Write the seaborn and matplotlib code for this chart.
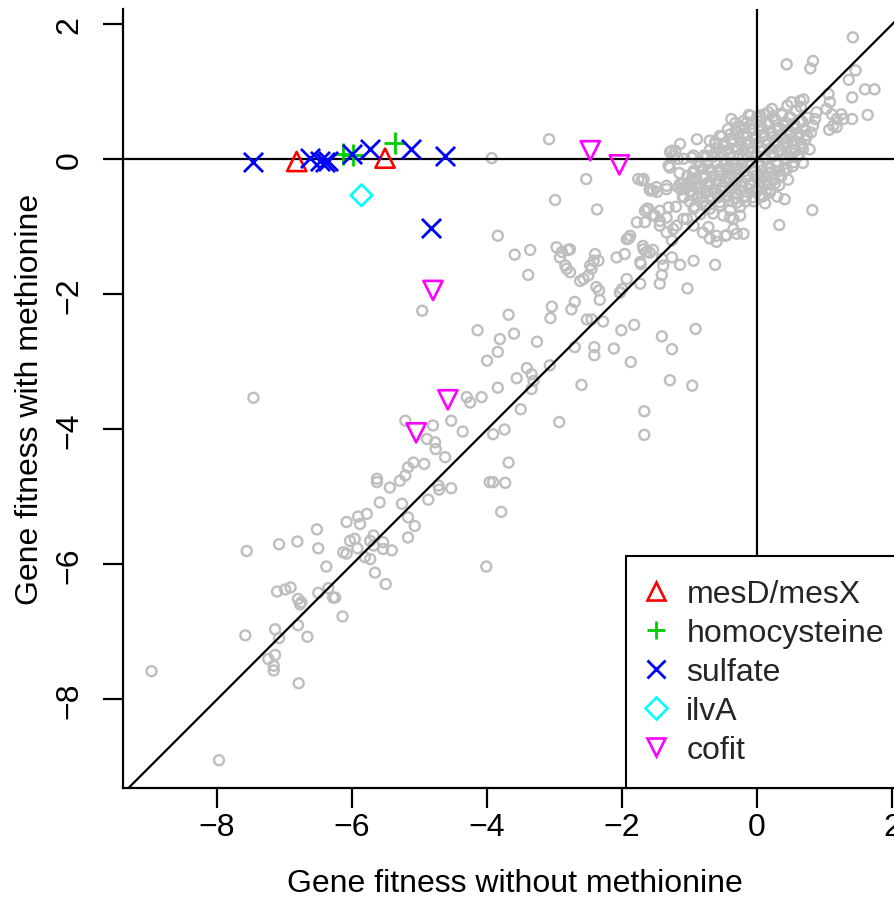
import matplotlib
matplotlib.use("Agg")
import matplotlib.pyplot as plt
from matplotlib.lines import Line2D
import seaborn as sns
import pandas as pd

# ---------------- data ----------------
bg_x = [
    -3.93, -3.84, -3.59,
    1.42, 0.44, 0.83, 0.79, 1.46, 1.36, 1.60, 1.74, 1.41, 1.06, 1.08, 1.64, 1.11, 1.25, 1.41, 1.13, 1.07,
    -3.08, -2.53, -2.99, -2.37, -3.36, -3.39,
    -2.97, -2.89, -2.80, -2.92, -2.84, -2.77, -2.62, -2.50, -2.40, -2.35, -2.47,
    -2.08, -1.96, -1.90, -1.69, -1.64, -1.54, -1.72, -1.39, -1.41, -1.14, -0.94, -0.62, -1.03, -1.44, -1.73, -1.93,
    1.03, 1.18, 1.28, 1.18, 0.83, 0.86, 0.88,
    0.51, 0.64, 0.69, 0.17, -0.10, -0.38, -0.25,
    -0.89, -1.14, -1.26, -1.24, -1.17, -0.97, -1.31, -1.68, -1.58, -1.48, -1.34, -1.14, -0.97,
    0.41, 0.82, 0.33, 0.19, 0.09,
    -1.63, -1.54, -1.44, -1.34, -1.24, -1.09, -0.94, -0.80, -0.70, -0.60, -0.45, -0.30, -0.20, -0.35, -0.25,
    -0.50, -0.75, -0.62, -1.66, -1.44,
    -1.76, -1.71, -1.59, -1.54, -1.49, -1.34, -1.17, -1.09, -1.02,
    -1.29, -1.21, -1.09, -0.94, -0.62, -1.29,
    -1.78, -1.66, -1.61, -1.51, -1.44, -1.31, -1.34, -1.19, -1.04, -0.94, -0.84, -0.72, -0.60, -0.47, -0.35,
    -0.40, -0.70, -1.93, -1.88, -1.68, -1.59, -1.41, -1.26, -1.26, -1.73,
    -2.42, -2.45, -2.57, -2.38, -2.77, -2.82, -2.03,
    -4.96, -7.46,
    -4.14, -3.68, -3.60, -3.81, -3.84, -4.00, -3.56, -3.84, -4.08, -4.30, -4.25, -4.53, -4.36, -4.80, -5.21,
    -4.89, -4.77, -4.76, -4.62, -4.93, -5.09, -5.17, -5.21, -5.29, -5.63, -5.63, -5.44, -5.59, -5.26, -5.17,
    -5.07, -5.17, -4.87, -4.72, -4.71, -4.53, -3.91, -3.74, -3.68, -3.96, -3.91, -3.73, -3.79, -4.01,
    -5.78, -5.91, -6.08, -5.88, -5.68, -5.96, -5.73, -5.54, -5.54, -5.41, -5.68, -5.73, -5.81, -6.13, -6.08,
    -6.52, -6.50, -6.81, -7.08, -7.56, -6.38, -5.66, -5.92, -6.03,
    -2.34, -2.33, -2.00, -2.03,
    -3.04, -3.06, -2.75, -2.70, -3.26, -3.41, -3.34, -3.31, -3.34, -3.50, -3.07, -2.70, -2.60, -2.93,
    -2.52, -2.45, -2.28, -2.41, -2.41, -2.12, -2.01, -1.82, -1.87, -1.41, -1.26, -1.29, -0.96, -0.91, -1.67, -1.67,
    -5.50, -7.11, -6.99, -6.91, -6.80, -6.75, -6.77, -6.50, -6.35, -6.28, -6.25, -6.14, -7.14, -7.08, -6.80,
    -6.66, -7.58, -7.14, -7.24, -7.16, -7.16, -6.79, -8.97, -7.97,
    -1.10, -1.05, -1.00, -0.98, -0.95, -0.92, -0.90, -0.88, -0.85, -0.83, -0.80, -0.78, -0.76, -0.74, -0.72,
    -0.70, -0.68, -0.66, -0.64, -0.62, -0.60, -0.58, -0.56, -0.55, -0.53, -0.51, -0.50, -0.48, -0.46, -0.45,
    -0.43, -0.41, -0.40, -0.38, -0.36, -0.35, -0.33, -0.31, -0.30, -0.28, -0.26, -0.25, -0.23, -0.21, -0.20,
    -0.18, -0.16, -0.15, -0.13, -0.11, -0.10, -0.08, -0.06, -0.05, -0.03, -0.02, 0.00, 0.02, 0.03, 0.05,
    0.06, 0.08, 0.10, 0.11, 0.13, 0.15, 0.16, 0.18, 0.20, 0.21, 0.23, 0.25, 0.26, 0.28, 0.30,
    0.31, 0.33, 0.35, 0.36, 0.38, 0.40, 0.41, 0.43, 0.45, 0.46, 0.48, 0.50, 0.51, 0.53, 0.55,
    0.56, 0.58, 0.60, 0.62, 0.64, 0.66, 0.68, 0.70, 0.72, 0.75, 0.78, 0.80, 0.22, 0.05, -0.15,
    -0.55, -0.70, -1.20, -1.15, 0.12, 0.30, -0.40, -0.65, 0.45, 0.65,
    # dense core
    -0.12, 0.00, 0.12, 0.24, 0.37, 0.50,
    -0.32, -0.20, -0.08, 0.05, 0.17, 0.29, 0.42, 0.55, 0.67,
    -0.43, -0.31, -0.19, -0.06, 0.08, 0.20, 0.33, 0.46, 0.58, 0.71,
    -0.52, -0.40, -0.27, -0.15, -0.02, 0.11, 0.23, 0.35, 0.48, 0.61, 0.74,
    -0.62, -0.49, -0.37, -0.24, -0.12, 0.01, 0.14, 0.27, 0.39, 0.52, 0.65,
    -0.70, -0.57, -0.45, -0.32, -0.20, -0.07, 0.06, 0.19, 0.31, 0.44, 0.57, 0.68,
    -0.78, -0.65, -0.53, -0.40, -0.27, -0.15, -0.02, 0.11, 0.24, 0.37, 0.50, 0.62,
    -0.86, -0.73, -0.61, -0.48, -0.35, -0.23, -0.10, 0.03, 0.16, 0.29, 0.42, 0.55,
    -0.93, -0.80, -0.68, -0.55, -0.43, -0.30, -0.18, -0.05, 0.08, 0.20, 0.33, 0.44,
    -1.03, -0.90, -0.78, -0.65, -0.53, -0.40, -0.28, -0.15, -0.02, 0.11, 0.24, 0.36,
    -1.10, -0.97, -0.85, -0.72, -0.60, -0.47, -0.35, -0.22, -0.09, 0.04, 0.16, 0.27,
    -1.13, -1.00, -0.88, -0.75, -0.63, -0.50, -0.37, -0.25, -0.12, 0.01, 0.14,
    -1.08, -0.95, -0.82, -0.70, -0.57, -0.44, -0.32, -0.19, -0.06, 0.04,
    -0.55, -0.42, -0.30, -0.17,
]
bg_y = [
    0.02, -1.13, -1.41,
    1.81, 1.41, 1.46, 1.35, 1.32, 1.18, 1.04, 1.04, 0.92, 0.97, 0.85, 0.66, 0.67, 0.67, 0.60, 0.50, 0.44,
    0.30, -0.29, -0.60, -0.74, -1.34, -1.71,
    -1.30, -1.37, -1.34, -1.45, -1.57, -1.67, -1.80, -1.72, -1.40, -1.50, -1.57,
    -1.45, -1.40, -1.17, -1.28, -1.37, -1.34, -1.55, -1.57, -1.71, -1.56, -1.50, -1.56, -1.91, -1.84, -1.84, -1.77,
    0.75, 0.60, 0.60, 0.48, 0.50, 0.60, 0.70,
    0.85, 0.87, 0.89, 0.70, 0.65, 0.60, 0.48,
    0.30, 0.23, 0.13, 0.05, 0.01, 0.03, -0.09, -0.29, -0.46, -0.48, -0.39, -0.36, -0.29,
    -0.59, -0.75, -0.97, -0.49, -0.54,
    -0.73, -0.83, -0.98, -1.08, -1.03, -0.88, -0.98, -1.08, -1.17, -1.22, -1.12, -1.10, -1.10, -0.88, -0.83,
    -0.83, -0.68, -0.49, -0.93, -0.76,
    -0.29, -0.31, -0.44, -0.46, -0.41, -0.44, -0.41, -0.44, -0.36,
    -0.12, 0.13, 0.01, 0.06, 0.23, 0.11,
    -0.93, -0.76, -0.73, -0.83, -0.91, -0.71, -0.86, -0.98, -0.88, -0.73, -0.81, -1.00, -1.13, -1.13, -1.03,
    -0.86, -0.73, -1.18, -1.13, -1.33, -1.38, -1.47, -1.20, -1.45, -1.52,
    -1.50, -1.62, -1.77, -1.89, -1.33, -1.62, -1.97,
    -2.24, -3.53,
    -2.53, -2.30, -2.58, -2.66, -2.85, -2.98, -3.24, -3.38, -3.52, -3.52, -3.60, -3.87, -4.03, -3.94, -3.87,
    -4.14, -4.19, -4.29, -4.41, -4.51, -4.49, -4.56, -4.68, -4.76, -4.73, -4.78, -4.86, -5.08, -5.10, -5.30,
    -5.43, -5.60, -5.04, -4.83, -4.89, -4.87, -4.07, -4.00, -4.49, -4.78, -4.78, -4.79, -5.22, -6.03,
    -5.25, -5.29, -5.37, -5.40, -5.57, -5.62, -5.65, -5.67, -5.77, -5.79, -5.72, -5.92, -5.89, -5.82, -5.84,
    -5.48, -5.76, -5.66, -5.70, -5.80, -6.03, -6.12, -5.76, -5.65,
    -1.94, -2.08, -1.92, -1.97,
    -2.18, -2.35, -2.22, -2.11, -2.70, -3.09, -3.18, -3.28, -3.40, -3.70, -3.05, -2.78, -3.34, -3.89,
    -2.37, -2.37, -2.40, -2.78, -2.90, -2.80, -2.53, -2.45, -3.00, -2.62, -2.81, -3.27, -3.35, -2.51, -3.73, -4.08,
    -6.29, -6.40, -6.37, -6.34, -6.51, -6.56, -6.59, -6.42, -6.35, -6.49, -6.49, -6.77, -6.96, -7.09, -6.90,
    -7.07, -7.05, -7.34, -7.40, -7.50, -7.57, -7.76, -7.58, -8.90,
    -0.55, -0.40, -0.62, -0.48, -0.20, -0.70, -0.35, -0.55, -0.10, -0.42, -0.62, -0.28, -0.50, 0.05, -0.15,
    -0.38, -0.58, -0.25, -0.45, 0.10, -0.05, -0.32, -0.52, -0.68, -0.18, -0.40, 0.20, -0.02, -0.28, -0.55,
    -0.12, -0.42, 0.08, -0.22, -0.62, 0.30, -0.05, -0.35, -0.50, 0.15, -0.15, -0.70, -0.40, 0.02, 0.38,
    -0.25, -0.55, 0.22, -0.08, -0.38, 0.45, 0.10, -0.18, -0.62, 0.30, -0.45, 0.05, -0.28, 0.50, 0.18,
    -0.10, -0.55, 0.35, -0.35, 0.00, 0.55, 0.22, -0.20, -0.45, 0.40, 0.08, -0.30, 0.60, 0.25, -0.08,
    0.45, -0.38, 0.12, 0.68, 0.32, -0.15, 0.50, 0.02, 0.25, -0.30, 0.62, 0.40, 0.10, -0.10, 0.50,
    0.28, 0.72, 0.05, 0.38, 0.58, 0.20, -0.05, 0.45, 0.30, 0.62, 0.15, 0.40, 0.75, 0.65, 0.55,
    0.35, 0.28, -0.70, -0.20, -0.65, -0.55, -0.75, -0.80, 0.80, 0.78,
    # dense core
    0.66, 0.63, 0.67, 0.64, 0.66, 0.62,
    0.54, 0.57, 0.53, 0.56, 0.52, 0.57, 0.55, 0.53, 0.56,
    0.45, 0.43, 0.47, 0.44, 0.46, 0.42, 0.47, 0.44, 0.46, 0.43,
    0.34, 0.37, 0.33, 0.36, 0.34, 0.37, 0.33, 0.36, 0.35, 0.33, 0.36,
    0.26, 0.24, 0.27, 0.23, 0.26, 0.24, 0.27, 0.23, 0.25, 0.27, 0.24,
    0.14, 0.17, 0.13, 0.16, 0.14, 0.17, 0.13, 0.16, 0.14, 0.17, 0.13, 0.15,
    0.06, 0.04, 0.07, 0.03, 0.06, 0.04, 0.07, 0.03, 0.05, 0.07, 0.04, 0.06,
    -0.04, -0.06, -0.03, -0.07, -0.04, -0.06, -0.03, -0.07, -0.05, -0.03, -0.06, -0.04,
    -0.16, -0.13, -0.17, -0.14, -0.16, -0.13, -0.17, -0.14, -0.16, -0.13, -0.17, -0.15,
    -0.24, -0.27, -0.23, -0.26, -0.24, -0.27, -0.23, -0.26, -0.24, -0.27, -0.23, -0.25,
    -0.36, -0.33, -0.37, -0.34, -0.36, -0.33, -0.37, -0.34, -0.36, -0.33, -0.37, -0.35,
    -0.44, -0.47, -0.43, -0.46, -0.44, -0.47, -0.43, -0.46, -0.44, -0.47, -0.45,
    -0.56, -0.53, -0.57, -0.54, -0.56, -0.53, -0.57, -0.54, -0.56, -0.53,
    -0.63, -0.61, -0.64, -0.62,
]

groups = ["mesD/mesX", "homocysteine", "sulfate", "ilvA", "cofit"]
mes_x = [-6.82, -5.51]
mes_y = [-0.03, 0.02]
hcy_x = [-6.14, -5.99, -5.36]
hcy_y = [0.08, 0.07, 0.24]
sulf_x = [-7.46, -6.62, -6.47, -6.40, -6.35, -6.00, -5.73, -5.12, -4.62, -4.83]
sulf_y = [-0.03, 0.02, -0.02, -0.03, -0.02, 0.08, 0.16, 0.16, 0.05, -1.02]
ilv_x = [-5.86]
ilv_y = [-0.53]
cofit_x = [-2.47, -2.04, -4.80, -4.58, -5.05]
cofit_y = [0.13, -0.08, -1.94, -3.56, -4.05]

xticks = [-8, -6, -4, -2, 0, 2]
yticks = [-8, -6, -4, -2, 0, 2]
xlabel = "Gene fitness without methionine"
ylabel = "Gene fitness with methionine"

# ---------------- style ----------------
sns.set_theme(style="white")
plt.rcParams["font.family"] = ["Liberation Sans", "DejaVu Sans"]
plt.rcParams["axes.unicode_minus"] = True
FS = 23

W, H = 895, 903
fig = plt.figure(figsize=(W / 100, H / 100), dpi=100)
# plot region in pixels: left 123, right 907, top 10, bottom 789
ax = fig.add_axes([123 / W, 1 - 789 / H, (907 - 123) / W, (789 - 10) / H])

grey = "#BEBEBE"
colors = {"mesD/mesX": "#FF0000", "homocysteine": "#00CD00", "sulfate": "#0000FF",
          "ilvA": "#00FFFF", "cofit": "#FF00FF"}
markers = {"mesD/mesX": "^", "homocysteine": "+", "sulfate": "x", "ilvA": "D", "cofit": "v"}
sizes = {"mesD/mesX": 190, "homocysteine": 260, "sulfate": 190, "ilvA": 120, "cofit": 190}

bg = pd.DataFrame({"x": bg_x, "y": bg_y})
sns.scatterplot(data=bg, x="x", y="y", ax=ax, marker="o", s=52, facecolors="none",
                edgecolor=grey, linewidth=1.7, zorder=2, legend=False)

lw = 1.6
ax.axhline(0, color="black", lw=lw, zorder=2.5)
ax.axvline(0, color="black", lw=lw, zorder=2.5)
ax.axline((0, 0), slope=1, color="black", lw=lw, zorder=2.5)

sp = pd.DataFrame({
    "x": mes_x + hcy_x + sulf_x + ilv_x + cofit_x,
    "y": mes_y + hcy_y + sulf_y + ilv_y + cofit_y,
    "g": [groups[0]] * len(mes_x) + [groups[1]] * len(hcy_x) + [groups[2]] * len(sulf_x)
         + [groups[3]] * len(ilv_x) + [groups[4]] * len(cofit_x),
})
for g in groups:
    d = sp[sp["g"] == g]
    m = markers[g]
    if m in ("+", "x"):
        sns.scatterplot(data=d, x="x", y="y", ax=ax, marker=m, s=sizes[g], color=colors[g],
                        linewidth=2.0, zorder=3, legend=False)
    else:
        sns.scatterplot(data=d, x="x", y="y", ax=ax, marker=m, s=sizes[g], facecolors="none",
                        edgecolor=colors[g], linewidth=1.9, zorder=3, legend=False)

ax.set_xlim((123 - 757) / 67.5, (907 - 757) / 67.5)
ax.set_ylim((160.5 - 789) / 67.5, (160.5 - 10) / 67.5)

for s in ["top", "right"]:
    ax.spines[s].set_visible(False)
for s in ["left", "bottom"]:
    ax.spines[s].set_linewidth(lw)
    ax.spines[s].set_color("black")

ax.set_xticks(xticks)
ax.set_yticks(yticks)
ax.set_xticklabels([str(v).replace("-", "\u2212") for v in xticks])
ax.set_yticklabels([str(v).replace("-", "\u2212") for v in yticks], rotation=90, va="center")
ax.tick_params(axis="both", direction="out", length=14.5, width=lw, color="black",
               labelsize=FS, labelcolor="black")
ax.tick_params(axis="x", pad=3)
ax.tick_params(axis="y", pad=13)
ax.tick_params(bottom=True, left=True)

ax.set_xlabel(xlabel, fontsize=FS, color="black", va="center")
ax.set_ylabel(ylabel, fontsize=FS, color="black", va="center")
ax.xaxis.set_label_coords(0.5, (789 - 884) / 779)
ax.yaxis.set_label_coords((30 - 123) / 784, 0.5)

handles = []
for g in groups:
    m = markers[g]
    if m in ("+", "x"):
        h = Line2D([], [], ls="none", marker=m, markersize=13, color=colors[g], markeredgewidth=2.0)
    else:
        ms = 11 if m == "D" else 13
        h = Line2D([], [], ls="none", marker=m, markersize=ms, markerfacecolor="none",
                   markeredgecolor=colors[g], markeredgewidth=1.9)
    handles.append(h)
leg = ax.legend(handles, groups, loc="lower right", bbox_to_anchor=(1, 0), borderaxespad=0,
                fontsize=FS, frameon=True, fancybox=False, framealpha=1, edgecolor="black",
                borderpad=0.72, handlelength=0.44, handletextpad=0.72, labelspacing=0.28)
leg.get_frame().set_linewidth(1.5)
leg.set_zorder(5)

fig.savefig("out.png", dpi=100)
